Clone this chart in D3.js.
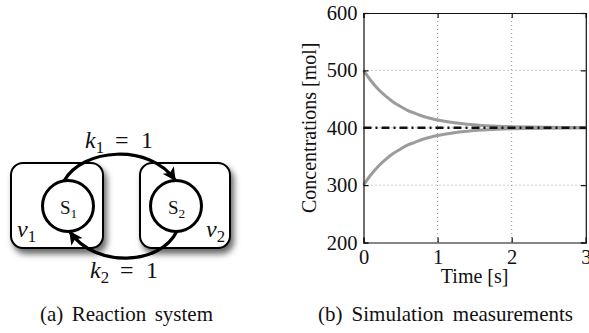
<!DOCTYPE html>
<html>
<head>
<meta charset="utf-8">
<script src="https://cdn.jsdelivr.net/npm/d3@7"></script>
<style>
  html, body { margin: 0; padding: 0; background: #fff; }
  svg { display: block; }
  svg text { font-family: "Liberation Serif", Tinos, "Times New Roman", Times, "Nimbus Roman", "DejaVu Serif", serif; fill: #111; }
</style>
</head>
<body>
<svg id="fig" width="589" height="333"></svg>
<script>
// Simulated concentrations of S1 and S2 over time
const timeSec = [0, 0.1, 0.2, 0.3, 0.4, 0.5, 0.6, 0.7, 0.8, 0.9, 1.0, 1.2, 1.4, 1.6, 1.8, 2.0, 2.25, 2.5, 2.75, 3.0];
const speciesS1 = [500, 482, 467, 455, 445, 437, 430, 425, 420, 416.5, 413.5, 409, 406, 404, 402.7, 401.8, 401.1, 400.7, 400.4, 400.2];
const speciesS2 = [300, 318, 333, 345, 355, 363, 370, 375, 380, 383.5, 386.5, 391, 394, 396, 397.3, 398.2, 398.9, 399.3, 399.6, 399.8];
const steadyState = [400];
const xTicks = [0, 1, 2, 3];
const yTicks = [200, 300, 400, 500, 600];
const xDomain = [0, 3];
const yDomain = [200, 600];

// Reaction system labels
const rateLabels = [{ sym: "k", sub: "1", val: "1" }, { sym: "k", sub: "2", val: "1" }];
const speciesLabels = [{ sym: "S", sub: "1" }, { sym: "S", sub: "2" }];
const volumeLabels = [{ sym: "ν", sub: "1" }, { sym: "ν", sub: "2" }];
const captions = ["(a) Reaction system", "(b) Simulation measurements"];

const serif = '"Liberation Serif", Tinos, "Times New Roman", Times, "Nimbus Roman", "DejaVu Serif", serif';
const svg = d3.select("#fig");

// ---------- (b) time course plot ----------
const plot = { left: 363.5, right: 585.8, top: 13, bottom: 242.5 };
const x = d3.scaleLinear().domain(xDomain).range([plot.left, plot.right]);
const y = d3.scaleLinear().domain(yDomain).range([plot.bottom, plot.top]);

const g = svg.append("g");

// dotted grid
g.selectAll("line.gx").data(xTicks.slice(1, -1)).join("line")
  .attr("x1", d => x(d)).attr("x2", d => x(d))
  .attr("y1", plot.top).attr("y2", plot.bottom)
  .attr("stroke", "#9a9a9a").attr("stroke-width", 1).attr("stroke-dasharray", "1,3");
g.selectAll("line.gy").data(yTicks.slice(1, -1)).join("line")
  .attr("x1", plot.left).attr("x2", plot.right)
  .attr("y1", d => y(d)).attr("y2", d => y(d))
  .attr("stroke", "#9a9a9a").attr("stroke-width", 1).attr("stroke-dasharray", "1,3");

// concentration curves
const line = d3.line().x((d, i) => x(timeSec[i])).y(d => y(d)).curve(d3.curveMonotoneX);
[speciesS1, speciesS2].forEach(series => {
  g.append("path").datum(series).attr("d", line)
    .attr("fill", "none").attr("stroke", "#9c9c9c").attr("stroke-width", 3);
});

// steady state (dash-dot)
g.selectAll("line.ss").data(steadyState).join("line")
  .attr("x1", x(xDomain[0])).attr("x2", x(xDomain[1]))
  .attr("y1", d => y(d)).attr("y2", d => y(d))
  .attr("stroke", "#111").attr("stroke-width", 2.6).attr("stroke-dasharray", "8,4,2,4");

// axes with inward ticks on all four sides
const tk = 5;
g.append("g").attr("transform", `translate(0,${plot.bottom})`)
  .call(d3.axisBottom(x).tickValues(xTicks).tickSize(-tk).tickPadding(7).tickFormat(d3.format("d")));
g.append("g").attr("transform", `translate(0,${plot.top})`)
  .call(d3.axisTop(x).tickValues(xTicks).tickSize(-tk).tickFormat(""));
g.append("g").attr("transform", `translate(${plot.left},0)`)
  .call(d3.axisLeft(y).tickValues(yTicks).tickSize(-tk).tickPadding(6).tickFormat(d3.format("d")));
g.append("g").attr("transform", `translate(${plot.right},0)`)
  .call(d3.axisRight(y).tickValues(yTicks).tickSize(-tk).tickFormat(""));
g.selectAll(".domain").attr("stroke", "#111").attr("stroke-width", 1.2);
g.selectAll(".tick line").attr("stroke", "#111").attr("stroke-width", 1.2);
g.selectAll(".tick text").attr("font-family", serif).attr("font-size", 20.5).attr("fill", "#111");

g.append("text").attr("x", x(1.5)).attr("y", 283).attr("text-anchor", "middle")
  .attr("font-family", serif).attr("font-size", 20).text("Time [s]");
g.append("text").attr("transform", `translate(316,${(plot.top + plot.bottom) / 2}) rotate(-90)`)
  .attr("text-anchor", "middle").attr("font-family", serif).attr("font-size", 20).text("Concentrations [mol]");

// ---------- (a) reaction diagram ----------
const defs = svg.append("defs");
const shadow = defs.append("filter").attr("id", "boxShadow")
  .attr("x", "-20%").attr("y", "-20%").attr("width", "150%").attr("height", "150%");
shadow.append("feDropShadow").attr("dx", 3).attr("dy", 5).attr("stdDeviation", 3)
  .attr("flood-color", "#000").attr("flood-opacity", 0.6);
defs.append("marker").attr("id", "arrowHead").attr("viewBox", "0 0 10 10")
  .attr("refX", 9).attr("refY", 5).attr("markerWidth", 4.2).attr("markerHeight", 4.2)
  .attr("markerUnits", "strokeWidth").attr("orient", "auto")
  .append("path").attr("d", "M0,0 L10,5 L0,10 L2.5,5 Z").attr("fill", "#000");

const d = svg.append("g");
const boxes = [{ x: 11, y: 163, w: 92, h: 85 }, { x: 140, y: 163, w: 90, h: 85 }];
d.selectAll("rect.vol").data(boxes).join("rect")
  .attr("x", b => b.x).attr("y", b => b.y).attr("width", b => b.w).attr("height", b => b.h)
  .attr("rx", 12).attr("fill", "#fff").attr("stroke", "#000").attr("stroke-width", 2)
  .attr("filter", "url(#boxShadow)");

const circles = [{ cx: 68, cy: 206 }, { cx: 176, cy: 206 }];
d.selectAll("circle.sp").data(circles).join("circle")
  .attr("cx", c => c.cx).attr("cy", c => c.cy).attr("r", 25.5)
  .attr("fill", "#fff").attr("stroke", "#000").attr("stroke-width", 3);

// reaction arrows
d.append("path").attr("d", "M64,181 C82,148 150,143 175,180")
  .attr("fill", "none").attr("stroke", "#000").attr("stroke-width", 3.2).attr("marker-end", "url(#arrowHead)");
d.append("path").attr("d", "M177,231 C160,266 95,268 70,232")
  .attr("fill", "none").attr("stroke", "#000").attr("stroke-width", 3.2).attr("marker-end", "url(#arrowHead)");

// label helper: symbol with subscript
function subLabel(parent, xPos, yPos, lab, size, italic) {
  const t = parent.append("text").attr("x", xPos).attr("y", yPos)
    .attr("font-family", serif).attr("font-size", size);
  t.append("tspan").attr("font-style", italic ? "italic" : "normal").text(lab.sym);
  t.append("tspan").attr("font-size", size * 0.7).attr("dy", size * 0.22).text(lab.sub);
  return t;
}

speciesLabels.forEach((lab, i) => {
  subLabel(d, circles[i].cx - 8, 214, lab, 19, false);
});
subLabel(d, 17, 237, volumeLabels[0], 24, true);
subLabel(d, 206, 237, volumeLabels[1], 24, true);

const ratePos = [{ x: 85, y: 148 }, { x: 90, y: 278 }];
rateLabels.forEach((lab, i) => {
  const p = ratePos[i];
  subLabel(d, p.x, p.y, lab, 24, true);
  d.append("text").attr("x", p.x + 30).attr("y", p.y).attr("font-family", serif).attr("font-size", 24).text("=");
  d.append("text").attr("x", p.x + 56).attr("y", p.y).attr("font-family", serif).attr("font-size", 24).text(lab.val);
});

// sub-captions, justified to their column widths
const capPos = [{ x: 40, w: 173 }, { x: 318, w: 255 }];
captions.forEach((c, i) => {
  const t = svg.append("text").attr("x", capPos[i].x).attr("y", 321)
    .attr("font-family", serif).attr("font-size", 21).text(c);
  const natural = t.node().getComputedTextLength();
  const spaces = (c.match(/ /g) || []).length;
  t.attr("word-spacing", Math.max(0, (capPos[i].w - natural) / spaces));
});
</script>
</body>
</html>
